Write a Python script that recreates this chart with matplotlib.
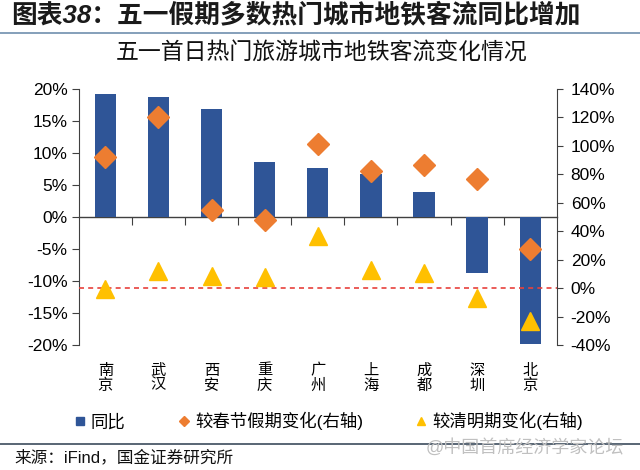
import numpy as np
import matplotlib
matplotlib.use("Agg")
import matplotlib.pyplot as plt
from matplotlib.lines import Line2D

plt.rcParams['font.family'] = ['Liberation Sans', 'Noto Sans CJK SC']

cities = ["南京", "武汉", "西安", "重庆", "广州", "上海", "成都", "深圳", "北京"]
yoy = [19.2, 18.8, 16.9, 8.6, 7.7, 6.8, 3.9, -8.7, -19.8]
vs_spring = [92, 120.5, 55, 48, 101.5, 82.5, 86.5, 77, 27.5]
vs_qingming = [-0.5, 12, 9, 8, 37, 13, 11, -7, -22.5]

left_ticks = [-20, -15, -10, -5, 0, 5, 10, 15, 20]
right_ticks = [-40, -20, 0, 20, 40, 60, 80, 100, 120, 140]

bar_color = "#2F5597"
dia_color = "#ED7D31"
tri_color = "#FFC000"
spine_color = "#404040"

fig = plt.figure(figsize=(6.4, 4.7), dpi=100)
ax = fig.add_axes([0.123, 0.265, 0.747, 0.546])
ax2 = ax.twinx()

x = np.arange(len(cities))
ax.bar(x, yoy, width=0.4, color=bar_color, zorder=2)
ax.set_xlim(-0.5, len(cities) - 0.5)
ax.set_ylim(-20, 20)
ax.set_yticks(left_ticks)
ax.set_yticklabels([f"{t}%" for t in left_ticks])

ax.set_xticks(x)
ax.set_xticklabels(["\n".join(c) for c in cities], fontsize=11, linespacing=1.1)
ax.tick_params(axis="x", length=0, pad=13)
ax.tick_params(axis="y", length=5, width=0.8, color=spine_color, labelsize=12.5, pad=3)

for s in ["top", "bottom", "right"]:
    ax.spines[s].set_visible(False)
ax.spines["left"].set_color(spine_color)
ax.spines["left"].set_linewidth(0.8)

# category axis through zero, ticks between categories
sec = ax.secondary_xaxis(0.5)
sec.set_alignment("bottom")
sec.set_xticks(x[:-1] + 0.5)
sec.set_xticklabels([])
sec.tick_params(axis="x", length=6, width=0.8, color=spine_color)
sec.spines["bottom"].set_color(spine_color)
sec.spines["bottom"].set_linewidth(1.0)

ax2.set_ylim(-40, 140)
ax2.set_yticks(right_ticks)
ax2.set_yticklabels([f"{t}%" for t in right_ticks])
ax2.tick_params(axis="y", length=4, width=0.8, color=spine_color, labelsize=12.5, pad=6)
for s in ["top", "bottom", "left"]:
    ax2.spines[s].set_visible(False)
ax2.spines["right"].set_color(spine_color)
ax2.spines["right"].set_linewidth(0.8)

ax2.axhline(0, color="#E8413C", lw=1.2, ls=(0, (3, 2.5)), zorder=1)
ax2.plot(x, vs_spring, ls="none", marker="D", ms=11, color=dia_color, zorder=3)
ax2.plot(x, vs_qingming, ls="none", marker="^", ms=13, color=tri_color, zorder=3)

# header
fig.text(0.018, 1 - 15 / 470, "图表38：五一假期多数热门城市地铁客流同比增加",
         fontsize=18.5, fontweight="bold", style="italic", color="#1a1a1a", va="center")
fig.add_artist(Line2D([0, 1], [1 - 33 / 470] * 2, transform=fig.transFigure,
                      color="#6f8fae", lw=1.2))
fig.text(0.503, 1 - 53 / 470, "五一首日热门旅游城市地铁客流变化情况",
         fontsize=16.5, color="#111111", ha="center", va="center")

handles = [
    Line2D([], [], ls="none", marker="s", ms=6, color=bar_color),
    Line2D([], [], ls="none", marker="D", ms=5, color=dia_color),
    Line2D([], [], ls="none", marker="^", ms=6, color=tri_color),
]
labels = ["同比", "较春节假期变化(右轴)", "较清明期变化(右轴)"]
fig.legend(handles, labels, loc="center", bbox_to_anchor=(0.513, 1 - 421 / 470),
           ncol=3, frameon=False, fontsize=12.5, handlelength=0.7,
           handletextpad=0.3, columnspacing=3.0)

fig.add_artist(Line2D([0, 1], [1 - 444 / 470] * 2, transform=fig.transFigure,
                      color="#3c4b5c", lw=1.2))
fig.text(0.022, 1 - 457 / 470, "来源：iFind，国金证券研究所",
         fontsize=12, color="#111111", va="center")
fig.text(0.975, 1 - 448 / 470, "@中国首席经济学家论坛", fontsize=13,
         color="#c0c0c0", ha="right", va="center")

fig.savefig("out.png", dpi=100)
